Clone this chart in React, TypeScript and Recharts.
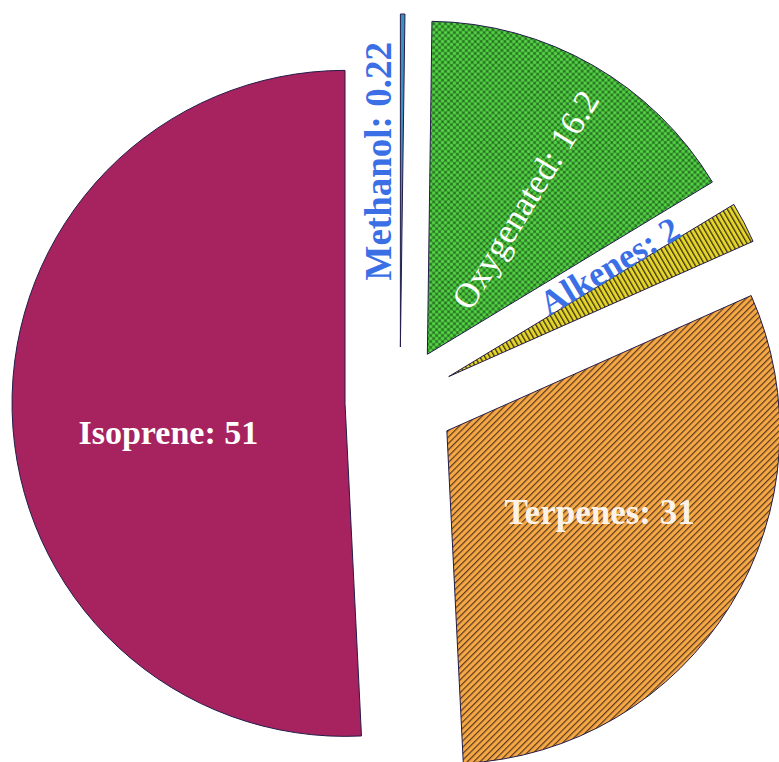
import React from 'react';
import { PieChart, Pie, Cell, Sector } from 'recharts';

// emission shares (%)
const categories = ['Isoprene', 'Terpenes', 'Alkenes', 'Oxygenated', 'Methanol'];
const values = [51, 31, 2, 16.2, 0.22];
const fills = ['#a6235f', 'url(#terpStripes)', 'url(#alkStripes)', 'url(#oxyDots)', '#3d8fc0'];

const data = categories.map((name, i) => ({ name, value: values[i] }));

const EXPLODE = 55;
const FONT = '"Liberation Serif", "Times New Roman", serif';

// label placement, polar from each (exploded) slice tip
const labelLayout: Record<string, any> = {
  Isoprene: { r: 179, angle: 189.3, rotate: 0, color: '#ffffff', weight: 'bold', size: 34 },
  Terpenes: { r: 173, angle: 332, rotate: 0, color: '#fbf3ea', weight: 'bold', size: 35 },
  Alkenes: { r: 195, angle: 34.4, rotate: -31, color: '#3b6fe6', weight: 'bold', size: 35 },
  Oxygenated: { r: 183, angle: 57.5, rotate: -58.5, color: '#ffffff', weight: 'normal', size: 35 },
  Methanol: { r: 187, angle: 96.7, rotate: -90, color: '#3b6fe6', weight: 'bold', size: 37 },
};

const offset = (midAngle: number) => {
  const rad = (midAngle * Math.PI) / 180;
  return { dx: EXPLODE * Math.cos(rad), dy: -EXPLODE * Math.sin(rad) };
};

const ExplodedSector = (props: any) => {
  const { dx, dy } = offset(props.midAngle);
  return <Sector {...props} cx={props.cx + dx} cy={props.cy + dy} />;
};

const SliceLabel = (props: any) => {
  const { cx, cy, midAngle, name, value } = props;
  const cfg = labelLayout[name];
  if (!cfg) return null;
  const { dx, dy } = offset(midAngle);
  const a = (cfg.angle * Math.PI) / 180;
  const x = cx + dx + cfg.r * Math.cos(a);
  const y = cy + dy - cfg.r * Math.sin(a);
  return (
    <text
      x={x}
      y={y}
      textAnchor="middle"
      dominantBaseline="central"
      fill={cfg.color}
      fontFamily={FONT}
      fontWeight={cfg.weight}
      fontSize={cfg.size}
      transform={cfg.rotate ? `rotate(${cfg.rotate} ${x} ${y})` : undefined}
    >
      {`${name}: ${value}`}
    </text>
  );
};

export default function App() {
  return (
    <div style={{ position: 'absolute', left: 0, top: 0, width: 779, height: 762, background: '#fff' }}>
      <PieChart width={779} height={762} margin={{ top: 0, right: 0, bottom: 0, left: 0 }}>
        <defs>
          <pattern id="terpStripes" width="4.5" height="4.5" patternUnits="userSpaceOnUse" patternTransform="rotate(45)">
            <rect width="4.5" height="4.5" fill="#f6a844" />
            <rect width="1.2" height="4.5" fill="#5a3a22" />
          </pattern>
          <pattern id="alkStripes" width="4.3" height="4.3" patternUnits="userSpaceOnUse" patternTransform="rotate(-30)">
            <rect width="4.3" height="4.3" fill="#e4d52a" />
            <rect width="1.3" height="4.3" fill="#3a3010" />
          </pattern>
          <pattern id="oxyDots" width="4.2" height="4.2" patternUnits="userSpaceOnUse" patternTransform="rotate(45)">
            <rect width="4.2" height="4.2" fill="#276f22" />
            <circle cx="2.1" cy="2.1" r="1.8" fill="#52d043" />
          </pattern>
        </defs>
        <Pie
          data={data}
          dataKey="value"
          nameKey="name"
          cx={400}
          cy={402}
          outerRadius={333}
          startAngle={90}
          endAngle={450}
          stroke="#231c4a"
          strokeWidth={1}
          shape={ExplodedSector}
          label={SliceLabel}
          labelLine={false}
          isAnimationActive={false}
        >
          {data.map((d, i) => (
            <Cell key={d.name} fill={fills[i]} />
          ))}
        </Pie>
      </PieChart>
    </div>
  );
}
